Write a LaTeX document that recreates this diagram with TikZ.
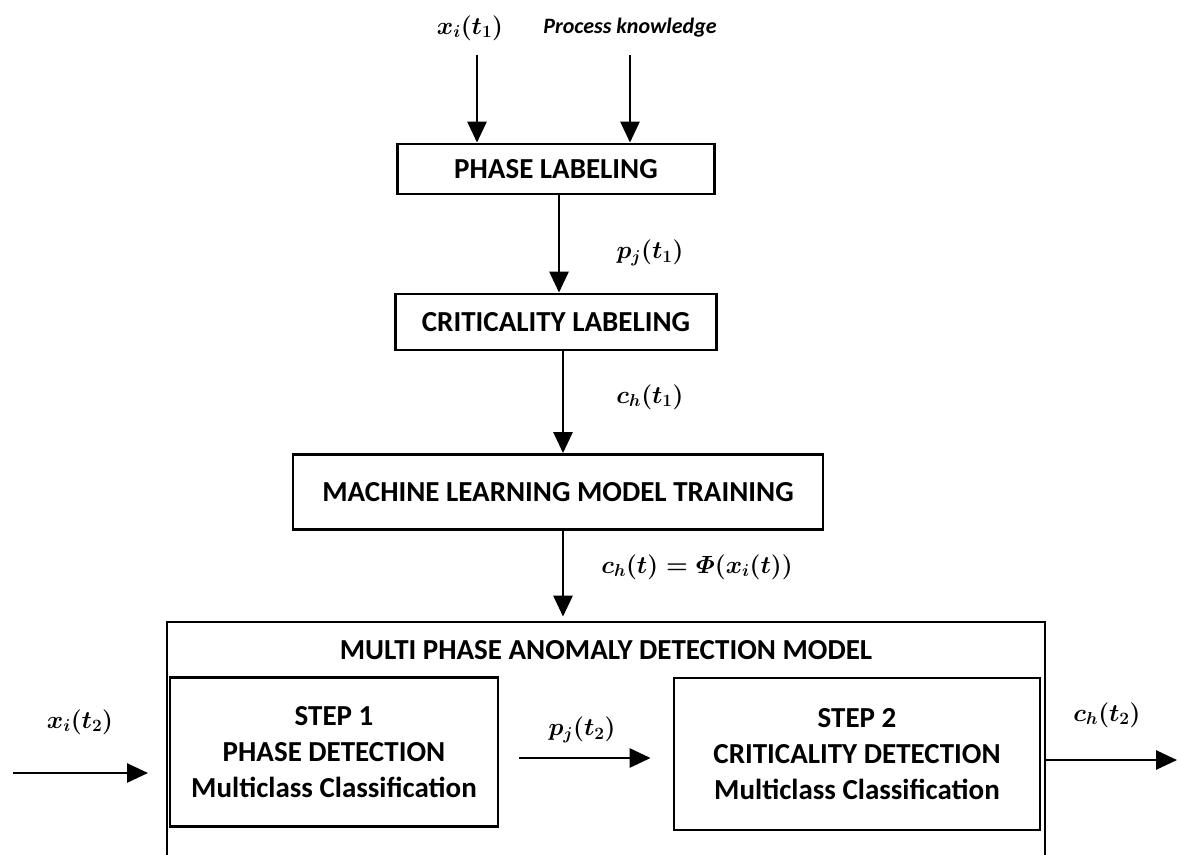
\documentclass[tikz,border=0pt]{standalone}
\usepackage{amsmath}
\usepackage{fontspec}
\setmainfont{Carlito}
\usetikzlibrary{arrows.meta,calc}
\tikzset{
  box/.style={draw, line width=2.8pt, inner sep=0pt, align=center, font=\bfseries\fontsize{29}{36}\selectfont},
  lbl/.style={inner sep=0pt, font=\fontsize{24}{28}\selectfont\boldmath},
  arr/.style={line width=2.8pt, -{Triangle[length=21pt,width=19pt]}},
}
\begin{document}
\begin{tikzpicture}[x=1pt,y=-1pt]
\useasboundingbox (0,0) rectangle (1177,854);
\clip (0,0) rectangle (1177,854);
\fill[white] (0,0) rectangle (1177,854);
% top inputs
\node[lbl] (xa) at (470,28) {$x_i(t_1)$};
\node[lbl, font=\bfseries\itshape\fontsize{22}{26}\selectfont] (pk) at (630,28) {Process knowledge};
\coordinate (xas) at (477,55);
\coordinate (pks) at (630,55);
% boxes
\node[box, minimum width=317pt, minimum height=50pt] (phase) at (556,169) {PHASE LABELING};
\node[box, minimum width=321pt, minimum height=56pt] (crit) at (556,322) {CRITICALITY LABELING};
\node[box, minimum width=530pt, minimum height=75pt] (ml) at (558,492) {MACHINE LEARNING MODEL TRAINING};
\node[box, minimum width=878pt, minimum height=260pt] (model) at (606,752) {};
\node[lbl, font=\bfseries\fontsize{29}{36}\selectfont] (title) at (606,650) {MULTI PHASE ANOMALY DETECTION MODEL};
\node[box, minimum width=328pt, minimum height=149pt] (s1) at (334,752) {STEP 1\\PHASE DETECTION\\Multiclass Classification};
\node[box, minimum width=366pt, minimum height=152pt] (s2) at (857,754) {STEP 2\\CRITICALITY DETECTION\\Multiclass Classification};
% vertical connector lines
\coordinate (v1) at (559,0);
\coordinate (v2) at (563,0);
% arrows top
\draw[arr] (xas) -- (xas |- phase.north);
\draw[arr] (pks) -- (pks |- phase.north);
\draw[arr] (v1 |- phase.south) -- (v1 |- crit.north);
\node[lbl] (pj1) at (650,253) {$p_j(t_1)$};
\draw[arr] (v2 |- crit.south) -- (v2 |- ml.north);
\node[lbl] (ch1) at (650,397) {$c_h(t_1)$};
\draw[arr] (v2 |- ml.south) -- ($(v2 |- model.north)+(0,-4)$);
\node[lbl] (phi) at (697,567) {$c_h(t) = \varPhi(x_i(t))$};
% bottom arrows
\coordinate (inL) at (13,773);
\coordinate (inR) at (148,773);
\draw[arr] (inL) -- (inR);
\node[lbl] (xi2) at (80,722) {$x_i(t_2)$};
\draw[arr] ($(s1.east |- 0,758)+(20,0)$) -- ($(s2.west |- 0,758)+(-22,0)$);
\node[lbl] (pj2) at (582,730) {$p_j(t_2)$};
\coordinate (outR) at (1177,760);
\draw[arr] (model.east |- outR) -- (outR);
\node[lbl] (ch2) at (1107,715) {$c_h(t_2)$};
\end{tikzpicture}
\end{document}
